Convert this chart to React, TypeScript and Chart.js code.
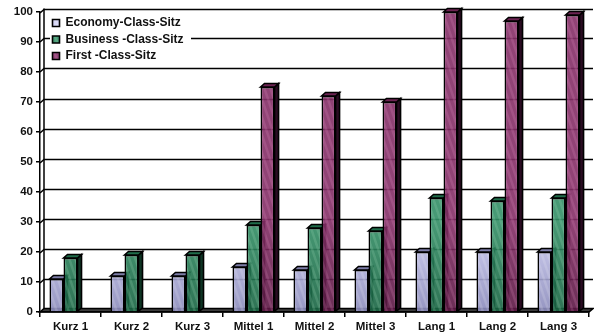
import React, { useEffect, useRef } from "react";
import { Chart, registerables } from "chart.js";

Chart.register(...registerables);

const categories = ["Kurz 1", "Kurz 2", "Kurz 3", "Mittel 1", "Mittel 2", "Mittel 3", "Lang 1", "Lang 2", "Lang 3"];
const economy = [11, 12, 12, 15, 14, 14, 20, 20, 20];
const business = [18, 19, 19, 29, 28, 27, 38, 37, 38];
const first = [null, null, null, 75, 72, 70, 100, 97, 99];

const WIDTH = 594;
const HEIGHT = 335;
const DEPTH_X = 4;
const DEPTH_Y = 3.5;
const FONT = "'Liberation Sans', Arial, sans-serif";

type Tone = { light: string; dark: string; stripe: string; top: string; side: string };

const economyTone: Tone = { light: "#d2d2f5", dark: "#8484b6", stripe: "rgba(255,255,255,0.14)", top: "#7d7da8", side: "#3e3e60" };
const businessTone: Tone = { light: "#338f66", dark: "#16603f", stripe: "rgba(170,225,195,0.18)", top: "#1f6c4a", side: "#0e3424" };
const firstTone: Tone = { light: "#852f67", dark: "#571540", stripe: "rgba(235,150,200,0.18)", top: "#6c2352", side: "#2a0c22" };

// Hatched fill with a fade towards the floor, slightly see-through so the grid shows behind it
function hatch(ctx: CanvasRenderingContext2D, tone: Tone) {
  const tile = document.createElement("canvas");
  tile.width = WIDTH;
  tile.height = HEIGHT;
  const t = tile.getContext("2d")!;
  t.globalAlpha = 0.9;
  const grad = t.createLinearGradient(0, 220, 0, 320);
  grad.addColorStop(0, tone.light);
  grad.addColorStop(1, tone.dark);
  t.fillStyle = grad;
  t.fillRect(0, 0, WIDTH, HEIGHT);
  t.globalAlpha = 1;
  t.strokeStyle = tone.stripe;
  t.lineWidth = 2.5;
  for (let x = -HEIGHT; x < WIDTH + HEIGHT; x += 6) {
    t.beginPath();
    t.moveTo(x, 0);
    t.lineTo(x + HEIGHT / 3, HEIGHT);
    t.stroke();
  }
  return ctx.createPattern(tile, "no-repeat")!;
}

function polygon(ctx: CanvasRenderingContext2D, pts: number[][], fill: string) {
  ctx.beginPath();
  pts.forEach(([x, y], i) => (i ? ctx.lineTo(x, y) : ctx.moveTo(x, y)));
  ctx.closePath();
  ctx.fillStyle = fill;
  ctx.fill();
  ctx.strokeStyle = "#000";
  ctx.lineWidth = 1.6;
  ctx.stroke();
}

const wallPlugin = {
  id: "wall",
  // Back wall, grid, floor and the white panel behind the legend
  beforeDraw(chart: any) {
    const { ctx, chartArea: a, scales } = chart;
    ctx.save();
    ctx.strokeStyle = "#000";
    ctx.lineWidth = 1.5;
    for (const tick of scales.y.ticks) {
      if (tick.value === 0) continue;
      const y = Math.round(scales.y.getPixelForValue(tick.value) - DEPTH_Y) + 0.5;
      ctx.beginPath();
      ctx.moveTo(a.left, y + DEPTH_Y);
      ctx.lineTo(a.left + DEPTH_X, y);
      ctx.lineTo(a.right + DEPTH_X, y);
      ctx.stroke();
    }
    ctx.beginPath();
    ctx.moveTo(a.left + DEPTH_X, a.top - DEPTH_Y);
    ctx.lineTo(a.left + DEPTH_X, a.bottom - DEPTH_Y);
    ctx.stroke();
    ctx.fillStyle = "#fff";
    ctx.fillRect(50, 14, 141, 50);
    polygon(
      ctx,
      [
        [a.left, a.bottom],
        [a.left + DEPTH_X, a.bottom - DEPTH_Y],
        [a.right + DEPTH_X, a.bottom - DEPTH_Y],
        [a.right, a.bottom],
      ],
      "#3c3c3c"
    );
    ctx.restore();
  },
  afterLayout(chart: any) {
    chart.legend.left = 48;
    chart.legend.top = 12.5;
  },
  // Series are painted first to last, each bar's side and top faces under its front,
  // so that later series overlap earlier ones
  beforeDatasetsDraw(chart: any) {
    const { ctx } = chart;
    chart.data.datasets.forEach((dataset: any, index: number) => {
      const meta = chart.getDatasetMeta(index);
      const tone: Tone = dataset.tone;
      ctx.save();
      meta.data.forEach((bar: any, i: number) => {
        if (dataset.data[i] == null) return;
        const half = bar.width / 2;
        const l = bar.x - half;
        const r = bar.x + half;
        const t = bar.y;
        const b = bar.base;
        polygon(ctx, [[r, t], [r + DEPTH_X, t - DEPTH_Y], [r + DEPTH_X, b - DEPTH_Y], [r, b]], tone.side);
        polygon(ctx, [[l, t], [l + DEPTH_X, t - DEPTH_Y], [r + DEPTH_X, t - DEPTH_Y], [r, t]], tone.top);
      });
      meta.data.forEach((bar: any, i: number) => {
        if (dataset.data[i] != null) bar.draw(ctx);
      });
      ctx.restore();
    });
    return false;
  },
};

export default function App() {
  const canvasRef = useRef<HTMLCanvasElement>(null);

  useEffect(() => {
    const ctx = canvasRef.current!.getContext("2d")!;
    const series = [
      { label: "Economy-Class-Sitz", data: economy, tone: economyTone },
      { label: "Business -Class-Sitz", data: business, tone: businessTone },
      { label: "First -Class-Sitz", data: first, tone: firstTone },
    ];
    const chart = new Chart(ctx, {
      type: "bar",
      data: {
        labels: categories,
        datasets: series.map((s) => ({
          ...s,
          backgroundColor: hatch(ctx, s.tone),
          borderColor: "#000",
          borderWidth: 1.6,
          categoryPercentage: 0.69,
          barPercentage: 1,
        })),
      } as any,
      options: {
        animation: false,
        responsive: false,
        devicePixelRatio: 1,
        layout: { padding: { top: 12, right: 5, bottom: 0, left: 0 } },
        scales: {
          x: {
            grid: { display: true, drawOnChartArea: false, tickLength: 5, color: "#000", lineWidth: 1.5 },
            border: { display: true, color: "#000", width: 1.5 },
            ticks: { color: "#111", font: { family: FONT, weight: "bold", size: 11.5 }, padding: 3, maxRotation: 0, autoSkip: false },
            afterFit: (s: any) => {
              s.height = 23;
            },
          },
          y: {
            min: 0,
            max: 100,
            grid: { display: true, drawOnChartArea: false, tickLength: 4, color: "#000", lineWidth: 1.5 },
            border: { display: true, color: "#000", width: 1.5 },
            ticks: { stepSize: 10, color: "#111", font: { family: FONT, weight: "bold", size: 11.5 }, padding: 3 },
            afterFit: (s: any) => {
              s.width = 40;
            },
          },
        },
        plugins: {
          title: { display: false },
          tooltip: { enabled: false },
          legend: {
            position: "chartArea",
            align: "start",
            labels: {
              boxWidth: 7,
              boxHeight: 7,
              padding: 4.5,
              color: "#111",
              font: { family: FONT, weight: "bold", size: 12 },
            },
          },
        },
      } as any,
      plugins: [wallPlugin],
    });
    return () => chart.destroy();
  }, []);

  return (
    <div style={{ position: "absolute", left: 0, top: 0, width: WIDTH, height: HEIGHT, background: "#fff" }}>
      <canvas ref={canvasRef} width={WIDTH} height={HEIGHT} style={{ display: "block" }} />
    </div>
  );
}
